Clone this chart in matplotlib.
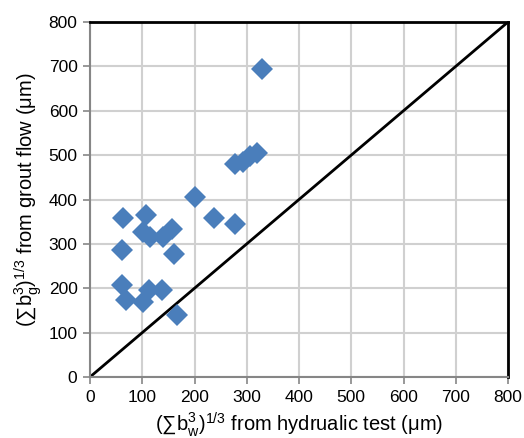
import numpy as np
import matplotlib
matplotlib.use("Agg")
import matplotlib.pyplot as plt

plt.rcParams['font.family'] = ['Liberation Sans', 'DejaVu Sans']
plt.rcParams['mathtext.fontset'] = 'custom'
plt.rcParams['mathtext.rm'] = 'Liberation Sans'
plt.rcParams['mathtext.it'] = 'Liberation Sans'

# hydraulic test (x) vs grout flow (y), in micrometres
hydraulic = [329, 278, 293, 306, 319, 278, 237, 200, 64, 108, 102, 115, 140, 156,
             62, 161, 62, 69, 102, 113, 137, 167]
grout = [693, 480, 484, 499, 504, 345, 359, 405, 359, 364, 327, 315, 315, 334,
         287, 278, 207, 173, 169, 196, 196, 139]

ticks = [0, 100, 200, 300, 400, 500, 600, 700, 800]

fig = plt.figure(figsize=(5.24, 4.38), dpi=100)
ax = fig.add_axes([90/524, 1-377/438, 418/524, 355/438])

ax.plot([0, 800], [0, 800], color='black', lw=2, zorder=2)
ax.plot(hydraulic, grout, 'D', color='#4a7ebb', markersize=11.5, markeredgewidth=0, zorder=3)

ax.set_xlim(0, 800)
ax.set_ylim(0, 800)
ax.set_xticks(ticks)
ax.set_yticks(ticks)
ax.grid(True, color='#d0d0d0', lw=1.5, zorder=0)
ax.set_axisbelow(True)

for s in ['left', 'bottom']:
    ax.spines[s].set_color('#868686')
    ax.spines[s].set_linewidth(1.5)
for s in ['top', 'right']:
    ax.spines[s].set_color('black')
    ax.spines[s].set_linewidth(2)

ax.tick_params(direction='out', length=5, width=1.2, color='#868686', labelsize=12.5, pad=4)

ax.set_xlabel(r'($\sum$b$_{\rm w}^{3}$)$^{1/3}$ from hydrualic test (μm)', fontsize=14.5, labelpad=4)
ax.set_ylabel(r'($\sum$b$_{\rm g}^{3}$)$^{1/3}$ from grout flow (μm)', fontsize=14.5, labelpad=3)

plt.savefig('out.png', dpi=100)
